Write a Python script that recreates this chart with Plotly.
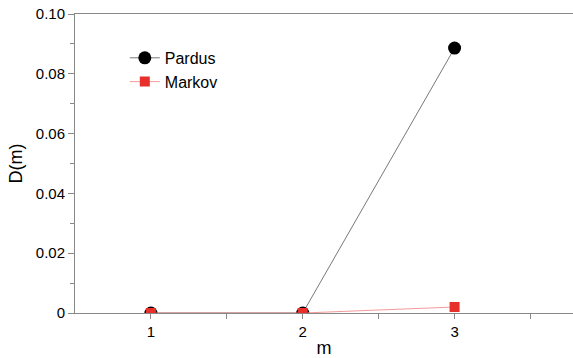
import plotly.graph_objects as go

# data
m_values = [1, 2, 3]
pardus = [0.0, 0.0, 0.0886]
markov = [0.0, 0.0, 0.002]

fig = go.Figure()

fig.add_trace(go.Scatter(
    x=m_values, y=pardus, mode='lines+markers', name='Pardus',
    line=dict(color='#555555', width=0.8),
    marker=dict(size=13, color='black', symbol='circle'),
))
fig.add_trace(go.Scatter(
    x=m_values, y=markov, mode='lines+markers', name='Markov',
    line=dict(color='#f08080', width=0.8),
    marker=dict(size=10, color='#e8302a', symbol='square'),
))

axis_font = dict(family='Liberation Sans, Arial, sans-serif', size=15, color='black')

fig.update_layout(
    width=573, height=358,
    margin=dict(l=75, r=0, t=14, b=45),
    plot_bgcolor='white', paper_bgcolor='white',
    font=axis_font,
    showlegend=True,
    legend=dict(x=0.1, y=0.91, xanchor='left', yanchor='top',
                bgcolor='rgba(0,0,0,0)', font=dict(size=16),
                itemwidth=30),
    xaxis=dict(
        range=[0.5, 3.78], tickvals=[1, 2, 3], ticktext=['1', '2', '3'],
        ticks='outside', ticklen=5, tickcolor='#888888',
        showline=True, linecolor='#888888', linewidth=1, mirror=True,
        showgrid=False, zeroline=False, automargin=False,
        minor=dict(tickvals=[1.5, 2.5, 3.5], ticks='outside', ticklen=5, tickcolor='#888888'),
        title=dict(text='m', standoff=2),
    ),
    yaxis=dict(
        range=[0, 0.1], tickvals=[0, 0.02, 0.04, 0.06, 0.08, 0.10],
        ticktext=['0', '0.02', '0.04', '0.06', '0.08', '0.10'],
        ticks='outside', ticklen=6, tickcolor='#888888', ticklabeloverflow='allow',
        showline=True, linecolor='#888888', linewidth=1,
        showgrid=False, zeroline=False, automargin=False,
        minor=dict(dtick=0.01, ticks='outside', ticklen=4, tickcolor='#888888'),
        title=dict(text='D(m)', standoff=8),
    ),
)

# drop the default 8px body margin so the figure sits at the window's corner
fig.write_html("out.html", config={'displayModeBar': False},
               post_script="document.body.style.margin='0px';")
